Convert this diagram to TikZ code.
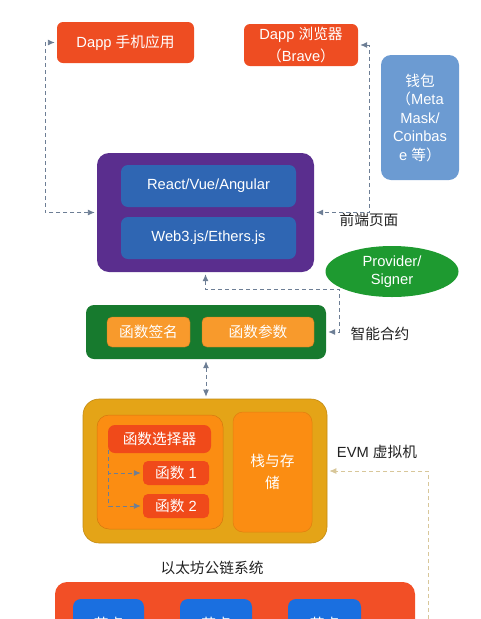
\documentclass[tikz,border=0pt]{standalone}
\usepackage{fontspec}
\setmainfont{Liberation Sans}
\newfontfamily\cjk{Noto Sans CJK SC}
\usetikzlibrary{arrows.meta,shapes.geometric}
\definecolor{redbox}{HTML}{EE4D22}
\definecolor{walletc}{HTML}{6C9BD2}
\definecolor{purplec}{HTML}{5A2E8E}
\definecolor{bluein}{HTML}{2F66B3}
\definecolor{greenell}{HTML}{1E9A30}
\definecolor{greenbox}{HTML}{177A2E}
\definecolor{orangein}{HTML}{F89A2C}
\definecolor{evmouter}{HTML}{E4A417}
\definecolor{evminner}{HTML}{FB8D12}
\definecolor{selred}{HTML}{F04A1A}
\definecolor{bottomred}{HTML}{F24F26}
\definecolor{nodeblue}{HTML}{1A6FE0}
\definecolor{dashgray}{HTML}{6D7E95}
\definecolor{dashtan}{HTML}{D8C79A}
\definecolor{labelc}{HTML}{222222}
\tikzset{
  boxbase/.style={rectangle, inner sep=0pt, font=\fontsize{14.7}{18}\selectfont, text=white, align=center},
  redb/.style={boxbase, fill=redbox, rounded corners=6pt},
  lbl/.style={inner sep=0pt, font=\fontsize{14.7}{18}\selectfont, text=labelc},
  conn/.style={draw=dashgray, line width=0.9pt, dash pattern=on 4pt off 3pt},
  tipb/.style={{Latex[length=7pt,width=6pt]}-{Latex[length=7pt,width=6pt]}, shorten <=2pt, shorten >=2pt},
  tipe/.style={-{Latex[length=7pt,width=6pt]}, shorten >=2pt}
}
\begin{document}
\begin{tikzpicture}[x=1pt,y=-1pt]
\useasboundingbox (0,0) rectangle (480,619);
\clip (0,0) rectangle (480,619);
% top row
\node[redb, minimum width=137pt, minimum height=41pt] (dapp) at (125.5,42.5) {Dapp {\cjk 手机应用}};
\node[redb, minimum width=114pt, minimum height=42pt, font=\fontsize{14.7}{22}\selectfont] (browser) at (301,45) {Dapp {\cjk 浏览器}\\{\cjk （}Brave{\cjk ）}};
\node[boxbase, fill=walletc, rounded corners=10pt, minimum width=78pt, minimum height=125pt, font=\fontsize{14.7}{18.5}\selectfont] (wallet) at (420,117.5) {{\cjk 钱包}\\{\cjk （}Meta\\Mask/\\Coinbas\\e {\cjk 等）}};
% front-end
\node[boxbase, fill=purplec, rounded corners=12pt, minimum width=217pt, minimum height=119pt] (front) at (205.5,212.5) {};
\node[boxbase, fill=bluein, rounded corners=7pt, minimum width=175pt, minimum height=42pt] (fw) at (208.5,186) {React/Vue/Angular};
\node[boxbase, fill=bluein, rounded corners=7pt, minimum width=175pt, minimum height=42pt] (web3) at (208.5,238) {Web3.js/Ethers.js};
\node[lbl] (frontlbl) at (369,220) {\cjk 前端页面};
% contract
\node[boxbase, fill=greenbox, rounded corners=8pt, minimum width=240pt, minimum height=54pt] (contract) at (206,332) {};
\node[boxbase, fill=orangein, draw=orangein!80!black, line width=0.4pt, rounded corners=5pt, minimum width=83pt, minimum height=30pt] (sig) at (148.5,332) {\cjk 函数签名};
\node[boxbase, fill=orangein, draw=orangein!80!black, line width=0.4pt, rounded corners=5pt, minimum width=112pt, minimum height=30pt] (par) at (258,332) {\cjk 函数参数};
\node[lbl] (contractlbl) at (380,334) {\cjk 智能合约};
% EVM
\node[boxbase, fill=evmouter, draw=evmouter!85!black, line width=0.6pt, rounded corners=16pt, minimum width=244pt, minimum height=144pt] (evm) at (205,471) {};
\node[boxbase, fill=evminner, draw=evminner!85!black, line width=0.5pt, rounded corners=12pt, minimum width=126pt, minimum height=114pt] (evmleft) at (160,472) {};
\node[boxbase, fill=evminner, draw=evminner!90!black, line width=0.5pt, rounded corners=10pt, minimum width=79pt, minimum height=120pt, font=\fontsize{14.7}{22}\selectfont] (stack) at (272.5,472) {\cjk 栈与存\\\cjk 储};
\node[boxbase, fill=selred, rounded corners=7pt, minimum width=103pt, minimum height=28pt] (sel) at (159.5,439) {\cjk 函数选择器};
\node[boxbase, fill=selred, rounded corners=5pt, minimum width=66pt, minimum height=24pt] (f1) at (176,473) {{\cjk 函数} 1};
\node[boxbase, fill=selred, rounded corners=5pt, minimum width=66pt, minimum height=24pt] (f2) at (176,506) {{\cjk 函数} 2};
\node[lbl] (evmlbl) at (377,452) {EVM {\cjk 虚拟机}};
% chain
\node[lbl] (chainlbl) at (212,568) {\cjk 以太坊公链系统};
\node[boxbase, fill=bottomred, rounded corners=12pt, minimum width=360pt, minimum height=78pt] (chain) at (235,621) {};
\node[boxbase, fill=nodeblue, rounded corners=8pt, minimum width=71pt, minimum height=52pt] (n1) at (108.5,625) {};
\node[boxbase, fill=nodeblue, rounded corners=8pt, minimum width=72pt, minimum height=52pt] (n2) at (216,625) {};
\node[boxbase, fill=nodeblue, rounded corners=8pt, minimum width=73pt, minimum height=52pt] (n3) at (324.5,625) {};
\node[lbl, text=white] (n1t) at (108.5,624) {\cjk 节点};
\node[lbl, text=white] (n2t) at (216,624) {\cjk 节点};
\node[lbl, text=white] (n3t) at (324.5,624) {\cjk 节点};
% connectors
\coordinate (lc) at (45,212.5);
\coordinate (rc) at (369,45);
\coordinate (pc) at (339,289);
\coordinate (sc) at (108.5,450);
\coordinate (bc) at (428,619);
\draw[conn, tipb] (front.west) -- (lc) |- (dapp.west);
\draw[conn, tipb] (browser.east) -- (rc) |- (front.east);
\draw[conn, tipb] (front.south) |- (pc) |- (contract.east);
\draw[conn, tipb] (contract.south) -- (contract.south |- evm.north);
\draw[conn, tipe] (sc) |- (f1.west);
\draw[conn, tipe] (sc) |- (f2.west);
\draw[conn, draw=dashtan, tipe] (bc) |- (evm.east);
% provider ellipse
\node[ellipse, fill=greenell, inner sep=0pt, minimum width=133pt, minimum height=51pt, text=white, align=center, font=\fontsize{14.7}{18}\selectfont] (prov) at (392,271.5) {Provider/\\Signer};
\end{tikzpicture}
\end{document}
